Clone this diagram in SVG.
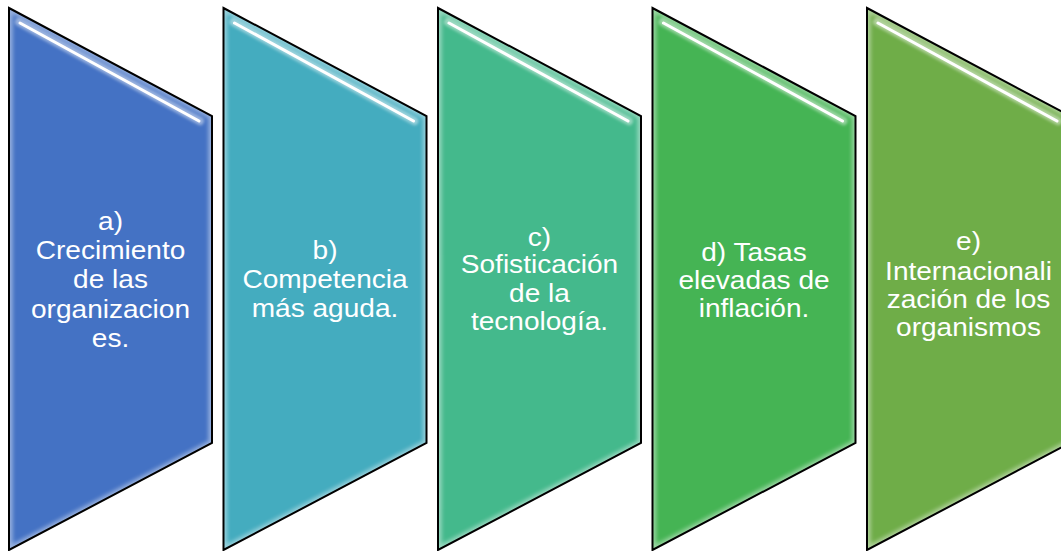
<svg xmlns="http://www.w3.org/2000/svg" xmlns:xlink="http://www.w3.org/1999/xlink" width="1061" height="551" viewBox="0 0 1061 551">
<style>
.outline{fill:none;stroke:#000;stroke-width:2;stroke-linejoin:miter}
.glow{fill:none;stroke:#fff;stroke-width:7;opacity:0.45;filter:url(#blur2)}
.gloss-soft{fill:none;stroke:#fff;stroke-width:8;opacity:0.45;stroke-linecap:round;filter:url(#blur1)}
.gloss{fill:none;stroke:#fff;stroke-width:3;opacity:1;stroke-linecap:round;filter:url(#blur05)}
.lbl{font-family:"Liberation Sans",Arial,sans-serif;font-size:25.5px;fill:#fff;text-anchor:middle}
</style>
<defs>
<path id="shp" d="M0,8 L203,116 L203,443 L0,550 Z"/>
<clipPath id="clip"><path d="M0,8 L203,116 L203,443 L0,550 Z"/></clipPath>
<filter id="blur2" x="-20%" y="-20%" width="140%" height="140%"><feGaussianBlur stdDeviation="2"/></filter>
<filter id="blur1" x="-20%" y="-50%" width="140%" height="200%"><feGaussianBlur stdDeviation="1.5"/></filter>
<filter id="blur05" x="-20%" y="-50%" width="140%" height="200%"><feGaussianBlur stdDeviation="0.5"/></filter>
</defs>

<g id="connectors"></g>

<g id="node-a" transform="translate(9,0)">
<use xlink:href="#shp" href="#shp" fill="#4472C4"/>
<g clip-path="url(#clip)"><use xlink:href="#shp" href="#shp" class="glow"/></g>
<path class="gloss-soft" d="M10,22 L191,121"/>
<path class="gloss" d="M11,23 L190,121"/>
<use xlink:href="#shp" href="#shp" class="outline"/>
<text class="lbl" transform="translate(101.5,0) scale(1.1,1)"><tspan x="0" y="230">a)</tspan><tspan x="0" y="259.5">Crecimiento</tspan><tspan x="0" y="288.5">de las</tspan><tspan x="0" y="318">organizacion</tspan><tspan x="0" y="347">es.</tspan></text>
</g>

<g id="node-b" transform="translate(223.5,0)">
<use xlink:href="#shp" href="#shp" fill="#44ACBF"/>
<g clip-path="url(#clip)"><use xlink:href="#shp" href="#shp" class="glow"/></g>
<path class="gloss-soft" d="M10,22 L191,121"/>
<path class="gloss" d="M11,23 L190,121"/>
<use xlink:href="#shp" href="#shp" class="outline"/>
<text class="lbl" transform="translate(101.5,0) scale(1.1,1)"><tspan x="0" y="259">b)</tspan><tspan x="0" y="288">Competencia</tspan><tspan x="0" y="317">más aguda.</tspan></text>
</g>

<g id="node-c" transform="translate(438,0)">
<use xlink:href="#shp" href="#shp" fill="#44B98C"/>
<g clip-path="url(#clip)"><use xlink:href="#shp" href="#shp" class="glow"/></g>
<path class="gloss-soft" d="M10,22 L191,121"/>
<path class="gloss" d="M11,23 L190,121"/>
<use xlink:href="#shp" href="#shp" class="outline"/>
<text class="lbl" transform="translate(101.5,0) scale(1.1,1)"><tspan x="0" y="246">c)</tspan><tspan x="0" y="273">Sofisticación</tspan><tspan x="0" y="302">de la</tspan><tspan x="0" y="330.5">tecnología.</tspan></text>
</g>

<g id="node-d" transform="translate(652.5,0)">
<use xlink:href="#shp" href="#shp" fill="#45B454"/>
<g clip-path="url(#clip)"><use xlink:href="#shp" href="#shp" class="glow"/></g>
<path class="gloss-soft" d="M10,22 L191,121"/>
<path class="gloss" d="M11,23 L190,121"/>
<use xlink:href="#shp" href="#shp" class="outline"/>
<text class="lbl" transform="translate(101.5,0) scale(1.1,1)"><tspan x="0" y="261">d) Tasas</tspan><tspan x="0" y="289">elevadas de</tspan><tspan x="0" y="317">inflación.</tspan></text>
</g>

<g id="node-e" transform="translate(867,0)">
<use xlink:href="#shp" href="#shp" fill="#6FAD48"/>
<g clip-path="url(#clip)"><use xlink:href="#shp" href="#shp" class="glow"/></g>
<path class="gloss-soft" d="M10,22 L191,121"/>
<path class="gloss" d="M11,23 L190,121"/>
<use xlink:href="#shp" href="#shp" class="outline"/>
<text class="lbl" transform="translate(101.5,0) scale(1.1,1)"><tspan x="0" y="250">e)</tspan><tspan x="0" y="280">Internacionali</tspan><tspan x="0" y="308">zación de los</tspan><tspan x="0" y="336">organismos</tspan></text>
</g>
</svg>
